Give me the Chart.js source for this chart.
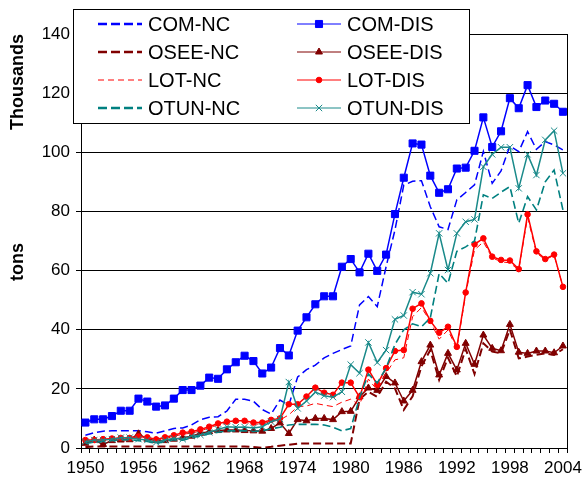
<!DOCTYPE html>
<html>
<head>
<meta charset="utf-8">
<title>Landings by category</title>
<script src="https://cdn.jsdelivr.net/npm/chart.js@4.4.1/dist/chart.umd.min.js"></script>
<style>
  html, body { margin: 0; padding: 0; background: #fff; }
  canvas { display: block; }
</style>
</head>
<body>
<canvas id="landingsChart" width="587" height="484"></canvas>
<script>
// years on the category axis, a label every 6th year
const years = [];
for (let y = 1950; y <= 2004; y++) years.push(String(y));

// thousands of tons
const comNc = [4.3, 5.2, 5.7, 5.8, 5.8, 5.8, 5.8, 5.5, 5.0, 5.8,
    6.6, 6.8, 7.8, 9.6, 10.4, 10.6, 12.5, 16.5, 16.5, 15.8,
    13.0, 11.5, 16.2, 14.5, 24.0, 26.5, 28.0, 30.5, 32.0, 33.3,
    34.5, 48.4, 51.2, 47.8, 61.3, 73.7, 88.9, 90.2, 90.4, 81.6,
    74.8, 73.9, 83.9, 86.4, 89.0, 100.3, 89.5, 93.7, 102.2, 100.2,
    107.0, 101.0, 103.6, 102.5, 100.8];
const comDis = [8.6, 9.7, 9.7, 10.8, 12.6, 12.6, 16.7, 15.7, 14.0, 14.4,
    16.7, 19.6, 19.6, 21.1, 23.8, 23.4, 26.6, 29.0, 31.2, 29.4,
    25.2, 27.2, 33.8, 31.3, 39.7, 44.2, 48.6, 51.3, 51.3, 61.3,
    63.9, 59.4, 65.7, 59.9, 65.4, 79.1, 91.4, 103.0, 102.6, 92.1,
    86.3, 87.5, 94.5, 94.8, 100.5, 111.8, 101.8, 107.1, 118.3, 114.9,
    122.7, 115.3, 117.5, 116.4, 113.7];
const oseeNc = [0.3, 0.5, 0.5, 0.5, 0.5, 0.5, 0.5, 0.5, 0.5, 0.5,
    0.5, 0.5, 0.5, 0.5, 0.5, 0.5, 0.5, 0.5, 0.5, 0.3,
    0.1, 0.4, 0.8, 1.1, 1.5, 1.5, 1.5, 1.5, 1.5, 1.5,
    1.5, 16.5, 19.0, 17.3, 22.4, 20.2, 12.9, 17.5, 27.6, 33.1,
    23.0, 30.5, 24.2, 33.5, 25.0, 35.4, 32.6, 32.0, 40.0, 30.3,
    30.9, 31.5, 32.0, 31.5, 33.4];
const oseeDis = [1.6, 2.7, 1.2, 2.5, 2.7, 2.8, 4.8, 3.0, 2.5, 2.5,
    3.0, 3.5, 4.0, 5.0, 5.5, 5.9, 6.1, 6.1, 5.9, 5.8,
    5.7, 6.6, 8.5, 4.9, 9.6, 9.2, 10.0, 10.0, 9.6, 12.3,
    12.4, 17.3, 20.3, 19.5, 24.2, 22.0, 15.9, 19.5, 29.2, 34.8,
    24.7, 32.0, 26.4, 35.4, 28.3, 38.2, 33.7, 32.9, 41.8, 32.4,
    32.0, 32.8, 32.8, 32.2, 34.5];
const lotNc = [2.3, 2.4, 2.7, 2.9, 3.1, 3.1, 3.5, 3.3, 2.6, 3.2,
    3.9, 4.7, 5.0, 5.8, 6.8, 7.8, 8.4, 8.7, 8.7, 8.1,
    8.1, 9.0, 9.5, 11.2, 14.0, 14.2, 15.1, 14.5, 14.0, 15.5,
    16.5, 14.5, 23.3, 19.6, 25.3, 29.8, 30.5, 44.4, 47.5, 42.8,
    36.8, 39.9, 33.5, 52.0, 67.0, 69.7, 64.3, 63.0, 62.6, 60.2,
    78.0, 66.0, 63.6, 65.2, 54.5];
const lotDis = [2.7, 2.7, 3.0, 3.2, 3.4, 3.4, 3.9, 3.6, 2.9, 3.6,
    4.3, 5.2, 5.5, 6.3, 7.2, 8.3, 8.9, 9.2, 9.2, 8.6,
    8.6, 9.5, 10.0, 14.8, 14.8, 17.4, 20.4, 18.7, 18.0, 22.1,
    22.1, 17.2, 26.5, 21.5, 27.0, 32.8, 33.1, 47.1, 48.9, 43.0,
    39.0, 41.0, 34.2, 52.6, 68.9, 70.9, 64.7, 63.6, 63.4, 60.5,
    79.0, 66.5, 63.9, 65.4, 54.5];
const otunNc = [1.5, 2.0, 2.2, 2.5, 2.8, 2.8, 2.5, 2.2, 1.5, 2.2,
    2.8, 2.6, 3.5, 4.0, 4.8, 5.3, 5.8, 5.8, 5.8, 5.6,
    5.8, 6.5, 7.0, 7.8, 8.0, 8.0, 8.0, 7.8, 7.0, 5.8,
    6.6, 17.0, 25.0, 22.0, 27.0, 35.0, 40.0, 42.0, 41.0, 44.0,
    59.0, 55.7, 66.5, 68.0, 70.0, 85.6, 84.4, 86.5, 88.4, 76.0,
    85.0, 80.5, 90.0, 94.0, 80.5];
const otunDis = [2.1, 2.7, 2.7, 3.0, 3.5, 3.5, 3.0, 2.7, 1.9, 2.7,
    3.3, 3.0, 4.1, 4.4, 5.3, 6.3, 7.2, 7.0, 7.1, 6.8,
    7.2, 8.9, 9.8, 22.3, 13.4, 15.9, 18.9, 17.7, 17.2, 19.0,
    28.2, 25.3, 35.7, 28.9, 33.1, 43.5, 44.8, 52.7, 52.0, 59.1,
    72.6, 60.2, 72.6, 76.5, 77.3, 95.1, 99.3, 101.7, 101.7, 87.8,
    99.3, 92.3, 104.2, 107.3, 92.9];

const FONT = '"Liberation Sans", Arial, sans-serif';

const dashed = (label, data, color, width, dash) => ({
    label, data,
    borderColor: color, backgroundColor: color,
    borderWidth: width, borderDash: dash,
    pointRadius: 0, tension: 0, fill: false,
});
const marked = (label, data, color, style, radius) => ({
    label, data,
    borderColor: color, backgroundColor: color,
    borderWidth: 1.5, pointStyle: style, pointRadius: radius,
    pointBorderWidth: 1, tension: 0, fill: false,
});

const datasets = [
    dashed('COM-NC', comNc, '#0000ff', 1.5, [8, 4]),
    marked('COM-DIS', comDis, '#0000ff', 'rect', 5),
    dashed('OSEE-NC', oseeNc, '#800000', 2, [8, 4]),
    marked('OSEE-DIS', oseeDis, '#800000', 'triangle', 4),
    dashed('LOT-NC', lotNc, '#ff0000', 1, [6, 4]),
    marked('LOT-DIS', lotDis, '#ff0000', 'circle', 2.8),
    dashed('OTUN-NC', otunNc, '#008080', 1.6, [8, 4]),
    marked('OTUN-DIS', otunDis, '#1a8a8a', 'crossRot', 4.5),
];
// later series on top, like the spreadsheet original
datasets.forEach((ds, i) => { ds.order = datasets.length - i; });

// boxed two-column legend in the upper left
const boxLegend = {
    id: 'boxLegend',
    afterDraw(chart) {
        const c = chart.ctx;
        c.save();
        c.fillStyle = '#fff';
        c.fillRect(73.5, 9.5, 396, 114);
        c.strokeStyle = '#000';
        c.lineWidth = 1;
        c.strokeRect(73.5, 9.5, 396, 114);
        chart.data.datasets.forEach((ds, i) => {
            const x0 = (i % 2) ? 297 : 98;
            const y = 24 + Math.floor(i / 2) * 28;
            c.strokeStyle = ds.borderColor;
            c.fillStyle = ds.backgroundColor;
            c.lineWidth = ds.pointRadius ? 1 : (ds.borderWidth === 1 ? 1 : 2.5);
            c.setLineDash(ds.borderDash ? (ds.borderWidth === 1 ? [6, 4] : [9, 4]) : []);
            c.beginPath();
            c.moveTo(x0, y);
            c.lineTo(x0 + 44, y);
            c.stroke();
            c.setLineDash([]);
            if (ds.pointRadius) {
                Chart.helpers.drawPoint(c, {
                    pointStyle: ds.pointStyle, radius: ds.pointRadius, borderWidth: 1, rotation: 0,
                }, x0 + 22, y);
            }
            c.fillStyle = '#000';
            c.font = '20px ' + FONT;
            c.textBaseline = 'middle';
            c.textAlign = 'left';
            c.fillText(ds.label, x0 + 50, y + 1);
        });
        c.restore();
    }
};

// right frame edge and the two rotated unit labels
const frameAndTitles = {
    id: 'frameAndTitles',
    afterDatasetsDraw(chart) {
        const { ctx, chartArea } = chart;
        ctx.save();
        ctx.strokeStyle = '#000';
        ctx.lineWidth = 1;
        ctx.beginPath();
        ctx.moveTo(Math.round(chartArea.right) + 0.5, chartArea.top);
        ctx.lineTo(Math.round(chartArea.right) + 0.5, chartArea.bottom);
        ctx.stroke();
        ctx.restore();
    },
    afterDraw(chart) {
        const ctx = chart.ctx;
        ctx.save();
        ctx.fillStyle = '#000';
        ctx.font = 'bold 18px ' + FONT;
        ctx.textAlign = 'center';
        ctx.textBaseline = 'middle';
        [['Thousands', 82], ['tons', 262]].forEach(([t, cy]) => {
            ctx.save();
            ctx.translate(18, cy);
            ctx.rotate(-Math.PI / 2);
            ctx.fillText(t, 0, 0);
            ctx.restore();
        });
        ctx.restore();
    }
};

const ctx = document.getElementById('landingsChart');
new Chart(ctx, {
    type: 'line',
    data: { labels: years, datasets },
    options: {
        responsive: false,
        animation: false,
        devicePixelRatio: 1,
        layout: { padding: { top: 34, right: 16, bottom: 0, left: 0 } },
        plugins: {
            legend: { display: false },
            tooltip: { enabled: false },
        },
        scales: {
            x: {
                type: 'category',
                offset: true,
                grid: {
                    offset: true,
                    drawOnChartArea: false,
                    drawTicks: true,
                    tickLength: 5,
                    color: '#000',
                },
                border: { display: true, color: '#000', width: 1 },
                ticks: {
                    autoSkip: false,
                    maxRotation: 0,
                    minRotation: 0,
                    padding: 5,
                    color: '#000',
                    font: { family: FONT, size: 17 },
                    callback: function (val, idx) {
                        return idx % 6 === 0 ? this.getLabelForValue(val) : '';
                    },
                },
                afterFit: (scale) => { scale.height = 36; },
            },
            y: {
                min: 0,
                max: 140,
                grid: { color: '#000', lineWidth: 1, drawTicks: true, tickLength: 5 },
                border: { display: true, color: '#000', width: 1 },
                ticks: {
                    stepSize: 20,
                    padding: 6,
                    color: '#000',
                    font: { family: FONT, size: 17 },
                },
                afterFit: (scale) => { scale.width = 81; },
            },
        },
    },
    plugins: [boxLegend, frameAndTitles],
});
</script>
</body>
</html>
